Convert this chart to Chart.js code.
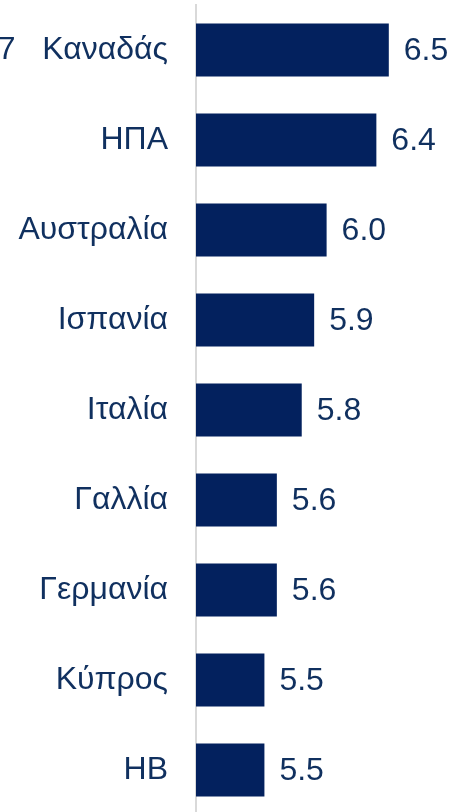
<!DOCTYPE html>
<html>
<head>
<meta charset="utf-8">
<script src="https://cdn.jsdelivr.net/npm/chart.js@4"></script>
<style>
  html, body { margin: 0; padding: 0; background: #fff; overflow: hidden; }
  #wrap { position: relative; width: 451px; height: 812px; overflow: hidden; }
  #chart { position: absolute; left: -30px; top: 0; }
</style>
</head>
<body>
<div id="wrap"><canvas id="chart" width="481" height="815"></canvas></div>
<script>
const countries = ['G7   Καναδάς', 'ΗΠΑ', 'Αυστραλία', 'Ισπανία', 'Ιταλία', 'Γαλλία', 'Γερμανία', 'Κύπρος', 'ΗΒ'];
const values = [6.5, 6.4, 6.0, 5.9, 5.8, 5.6, 5.6, 5.5, 5.5];
const axisMin = 4.95;
const axisMax = 7;

const barColor = '#03215e';
const textColor = '#10305f';
const font = { family: '"Liberation Sans", Arial, sans-serif', size: 32 };

// value labels to the right of each bar
const valueLabels = {
  id: 'valueLabels',
  afterDatasetsDraw(chart) {
    const ctx = chart.ctx;
    const meta = chart.getDatasetMeta(0);
    ctx.save();
    ctx.font = font.size + 'px ' + font.family;
    ctx.fillStyle = textColor;
    ctx.textAlign = 'left';
    ctx.textBaseline = 'middle';
    meta.data.forEach((bar, i) => {
      ctx.fillText(values[i].toFixed(1), bar.x + 15, bar.y + 1);
    });
    ctx.restore();
  }
};

new Chart(document.getElementById('chart').getContext('2d'), {
  type: 'bar',
  data: {
    labels: countries,
    datasets: [{
      data: values,
      backgroundColor: barColor,
      borderWidth: 0,
      categoryPercentage: 1,
      barPercentage: 0.59
    }]
  },
  options: {
    indexAxis: 'y',
    responsive: false,
    animation: false,
    devicePixelRatio: 1,
    layout: { padding: { top: 5, right: 0, bottom: 0, left: 0 } },
    plugins: {
      legend: { display: false },
      tooltip: { enabled: false }
    },
    scales: {
      x: {
        display: false,
        min: axisMin,
        max: axisMax
      },
      y: {
        afterFit(scale) {
          // fixed label column, and no extra room above/below the bands
          scale.width = 226;
          scale.paddingTop = 0;
          scale.paddingBottom = 0;
        },
        grid: { display: false, drawTicks: false },
        border: { display: true, color: '#d9d9d9', width: 2 },
        ticks: {
          padding: 28,
          color: textColor,
          font: font
        }
      }
    }
  },
  plugins: [valueLabels]
});
</script>
</body>
</html>
